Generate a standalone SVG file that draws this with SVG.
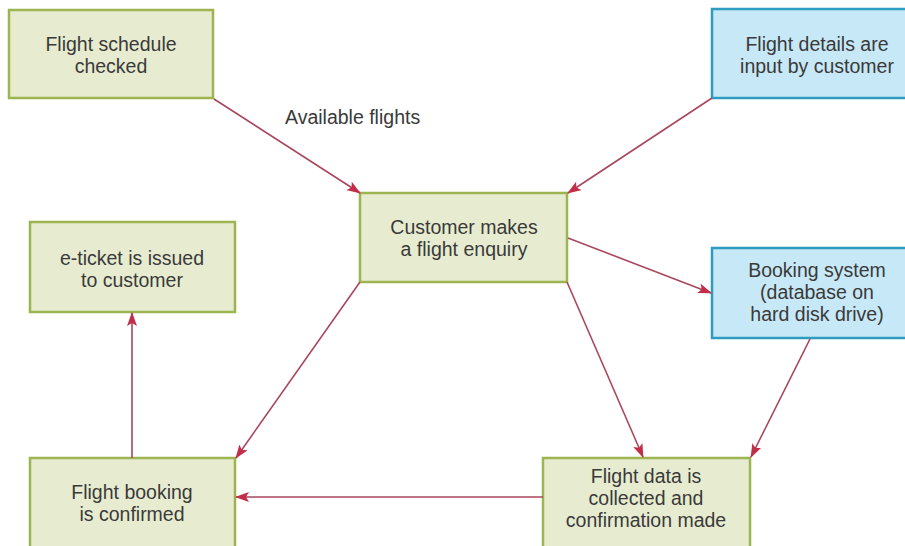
<svg xmlns="http://www.w3.org/2000/svg" width="905" height="546" viewBox="0 0 905 546">
<defs>
<marker id="ah" markerWidth="14" markerHeight="10" refX="13" refY="5" orient="auto" markerUnits="userSpaceOnUse">
<path d="M0,0 L14,5 L0,10 L3,5 Z" fill="#c22e48"/>
</marker>
</defs>
<style>
.g{fill:#e7ecd0;stroke:#9db551;stroke-width:2.5}
.b{fill:#c7e8f6;stroke:#2d9cbf;stroke-width:2.5}
text{font-family:"Liberation Sans",Arial,sans-serif;font-size:19.5px;fill:#3a3a3a;text-anchor:middle}
.c{fill:none;stroke:#a8475e;stroke-width:1.6;marker-end:url(#ah)}
</style>
<rect width="905" height="546" fill="#fff"/>
<g id="n1"><rect class="g" x="9" y="10" width="204" height="88"/><text x="111" y="51">Flight schedule</text><text x="111" y="73">checked</text></g>
<g id="n2"><rect class="b" x="712" y="9" width="200" height="89"/><text x="817" y="51">Flight details are</text><text x="817" y="73">input by customer</text></g>
<g id="n3"><rect class="g" x="360" y="193" width="207" height="89"/><text x="464" y="234">Customer makes</text><text x="464" y="256">a flight enquiry</text></g>
<g id="n4"><rect class="b" x="712" y="248" width="200" height="90"/><text x="817" y="277">Booking system</text><text x="817" y="299">(database on</text><text x="817" y="321">hard disk drive)</text></g>
<g id="n5"><rect class="g" x="30" y="222" width="205" height="90"/><text x="132" y="265">e-ticket is issued</text><text x="132" y="287">to customer</text></g>
<g id="n6"><rect class="g" x="30" y="458" width="205" height="100"/><text x="132" y="499">Flight booking</text><text x="132" y="521">is confirmed</text></g>
<g id="n7"><rect class="g" x="543" y="458" width="207" height="100"/><text x="646" y="483">Flight data is</text><text x="646" y="505">collected and</text><text x="646" y="527">confirmation made</text></g>
<g id="connectors">
<line class="c" x1="214" y1="99" x2="360" y2="193"/>
<line class="c" x1="712" y1="98" x2="568" y2="193"/>
<line class="c" x1="568" y1="238" x2="711" y2="293"/>
<line class="c" x1="360" y1="282" x2="236" y2="458"/>
<line class="c" x1="567" y1="282" x2="643" y2="457"/>
<line class="c" x1="810" y1="339" x2="751" y2="457"/>
<line class="c" x1="543" y1="497" x2="236" y2="497"/>
<line class="c" x1="132" y1="458" x2="132" y2="313"/>
<text x="285" y="124" style="text-anchor:start">Available flights</text>
</g>
</svg>
